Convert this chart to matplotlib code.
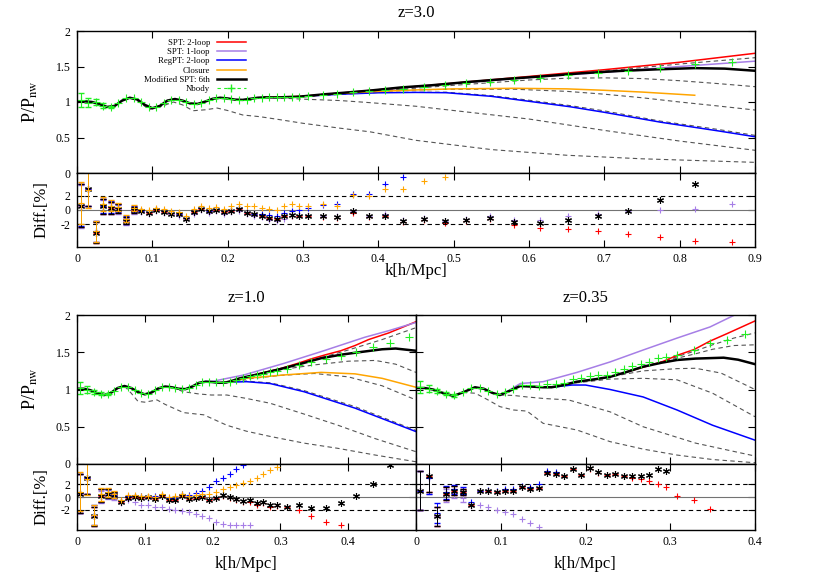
import matplotlib
matplotlib.use('Agg')
import matplotlib.pyplot as plt
from matplotlib.lines import Line2D
from matplotlib.ticker import FuncFormatter

plt.rcParams['font.family'] = ['Liberation Serif', 'DejaVu Serif']
plt.rcParams['mathtext.fontset'] = 'stix'
plt.rcParams['axes.unicode_minus'] = False
plt.rcParams['axes.linewidth'] = 1.0

C_SPT2 = '#ff0000'
C_SPT1 = '#a67ee6'
C_REG = '#0000ff'
C_CLO = '#ffa500'
C_MSPT = 'black'
C_NB = '#22ee22'
C_DASH = '#555555'

labels = ['SPT: 2-loop', 'SPT: 1-loop', 'RegPT: 2-loop', 'Closure', 'Modified SPT: 6th', 'Nbody']
diff_guides = [-2, 0, 2]

# N-body k bins, dense part shared by all redshifts
k_dense = [0.005, 0.015, 0.025, 0.035, 0.045, 0.055, 0.065, 0.075, 0.085, 0.095,
           0.105, 0.115, 0.125, 0.135, 0.145, 0.155, 0.165, 0.175, 0.185, 0.195,
           0.205, 0.215, 0.225, 0.235, 0.245, 0.255, 0.265, 0.275, 0.285, 0.295]

# ---------------- z = 3.0 ----------------
k3_base = [0.0, 0.01, 0.02, 0.03, 0.04, 0.05, 0.06, 0.07, 0.08, 0.09, 0.10, 0.11, 0.12, 0.13, 0.14,
           0.15, 0.16, 0.17, 0.18, 0.19, 0.20, 0.21, 0.22, 0.23, 0.24, 0.25, 0.26, 0.27, 0.28, 0.29,
           0.30, 0.33, 0.36, 0.39, 0.43, 0.47, 0.52, 0.57, 0.62, 0.67, 0.72, 0.77, 0.82, 0.86, 0.90]
mspt3 = [1.00, 1.01, 1.00, 0.97, 0.93, 0.945, 1.02, 1.06, 1.035, 0.96, 0.912, 0.945, 1.02, 1.042, 1.02,
         0.98, 0.973, 1.005, 1.045, 1.06, 1.05, 1.033, 1.03, 1.045, 1.06, 1.066, 1.065, 1.066, 1.07, 1.073,
         1.08, 1.11, 1.135, 1.162, 1.205, 1.235, 1.283, 1.325, 1.363, 1.405, 1.437, 1.46, 1.477, 1.47, 1.44]
k3_spt2 = [0.30, 0.40, 0.50, 0.60, 0.70, 0.80, 0.90]
spt2_3 = [1.08, 1.172, 1.265, 1.36, 1.455, 1.56, 1.686]
k3_spt1 = [0.30, 0.40, 0.50, 0.60, 0.70, 0.80, 0.90]
spt1_3 = [1.08, 1.172, 1.262, 1.345, 1.418, 1.50, 1.575]
k3_reg = [0.30, 0.35, 0.40, 0.45, 0.49, 0.55, 0.60, 0.654, 0.70, 0.775, 0.85, 0.90]
reg3 = [1.08, 1.11, 1.13, 1.135, 1.131, 1.08, 1.01, 0.934, 0.855, 0.715, 0.595, 0.511]
k3_clo = [0.25, 0.30, 0.35, 0.39, 0.45, 0.50, 0.58, 0.65, 0.70, 0.75, 0.82]
clo3 = [1.066, 1.08, 1.12, 1.145, 1.17, 1.185, 1.193, 1.185, 1.165, 1.14, 1.095]
k3_dash = [[0.30, 0.40, 0.50, 0.60, 0.70, 0.80, 0.90],
           [0.30, 0.40, 0.50, 0.60, 0.65, 0.70, 0.75, 0.80, 0.85, 0.90],
           [0.30, 0.39, 0.45, 0.50, 0.58, 0.65, 0.70, 0.75, 0.80, 0.85, 0.90],
           [0.30, 0.40, 0.49, 0.55, 0.60, 0.654, 0.70, 0.775, 0.85, 0.90],
           [0.25, 0.30, 0.35, 0.39, 0.45, 0.50, 0.60, 0.70, 0.80, 0.90],
           [0.06, 0.07, 0.08, 0.09, 0.097, 0.11, 0.128, 0.14, 0.154, 0.17, 0.186, 0.20, 0.22, 0.243,
            0.27, 0.30, 0.35, 0.389, 0.45, 0.55, 0.65, 0.75, 0.90]]
dash3 = [[1.08, 1.17, 1.258, 1.345, 1.435, 1.535, 1.624],
         [1.078, 1.155, 1.235, 1.31, 1.335, 1.34, 1.33, 1.30, 1.26, 1.216],
         [1.08, 1.145, 1.17, 1.18, 1.18, 1.15, 1.11, 1.06, 1.0, 0.945, 0.887],
         [1.08, 1.135, 1.138, 1.09, 1.025, 0.95, 0.875, 0.73, 0.615, 0.53],
         [1.066, 1.04, 1.02, 0.99, 0.94, 0.88, 0.76, 0.60, 0.45, 0.32],
         [1.02, 1.055, 1.02, 0.94, 0.897, 0.93, 1.0, 0.96, 0.877, 0.89, 0.915, 0.88, 0.817, 0.793,
          0.75, 0.70, 0.63, 0.58, 0.46, 0.33, 0.25, 0.20, 0.15]]
k3_sparse = [0.307, 0.327, 0.345, 0.367, 0.387, 0.409, 0.433, 0.46, 0.488, 0.517,
             0.548, 0.58, 0.615, 0.652, 0.691, 0.731, 0.774, 0.82, 0.869]
nb3 = [1.03, 0.99, 1.0, 0.95, 0.93, 0.98, 1.05, 1.05, 1.0, 0.93, 0.925, 0.985, 1.035, 1.035, 1.0,
       0.975, 0.99, 1.03, 1.055, 1.058, 1.04, 1.03, 1.035, 1.055, 1.062, 1.066, 1.064, 1.068, 1.072, 1.076,
       1.085, 1.10, 1.115, 1.135, 1.15, 1.169, 1.187, 1.215, 1.24, 1.263, 1.286, 1.31, 1.338, 1.376,
       1.41, 1.44, 1.48, 1.53, 1.568]
nb_err3 = [0.10, 0.06, 0.04, 0.03, 0.02]
# differences [%]
dmspt3 = [0.6, 3.0, -3.2, 0.5, 0.3, 0.2, -1.5, 0.0, -0.2, -0.4, 0.0, -0.3, -0.5, -0.6, -1.2,
          -0.3, 0.2, -0.2, 0.0, -0.3, -0.1, 0.2, -0.4, -0.6, -0.8, -1.1, -1.3, -0.9, -0.7, -0.8,
          -0.8, -0.9, -1.0, -0.2, -0.9, -0.8, -1.5, -1.2, -1.6, -1.4, -1.15, -1.7, -1.8, -1.4, -0.85,
          -0.15, 1.4, 3.6]
dspt2_3 = [0.6, 3.0, -3.2, 0.5, 0.3, 0.2, -1.5, 0.0, -0.2, -0.4, 0.0, -0.3, -0.5, -0.6, -1.2,
           -0.3, 0.2, -0.2, 0.0, -0.3, -0.1, 0.2, -0.4, -0.6, -0.8, -1.1, -1.3, -0.9, -0.8, -0.9,
           -0.9, -1.0, -1.1, -0.4, -1.0, -0.9, -1.7, -1.4, -1.8, -1.5, -1.3, -2.1, -2.5, -2.6, -2.9,
           -3.4, -3.8, -4.4, -4.5]
dspt1_3 = [0.5, 3.1, -3.0, 0.4, 0.2, 0.1, -1.6, -0.2, -0.3, -0.5, -0.1, -0.4, -0.6, -0.8, -1.3,
           -0.5, 0.0, -0.4, -0.2, -0.5, -0.3, -0.1, -0.6, -0.8, -1.0, -1.4, -1.6, -1.2, -0.9, -0.7,
           -0.7, -0.8, -0.9, -0.1, -0.8, -0.6, -1.4, -1.1, -1.5, -1.3, -0.9, -1.4, -1.4, -0.9, -0.55,
           -0.2, 0.0, 0.1, 0.8]
dreg3 = [0.7, 3.0, -3.0, 0.6, 0.4, 0.3, -1.4, 0.1, -0.1, -0.3, 0.1, -0.2, -0.4, -0.5, -1.1,
         -0.2, 0.3, -0.1, 0.1, -0.2, 0.0, 0.3, -0.3, -0.5, -0.5, -0.7, -0.9, -0.4, -0.2, 0.0,
         0.3, 0.7, 0.9, 2.3, 2.2, 3.7, 4.6]
dclo3 = [1.0, 2.8, -3.0, 0.8, 0.6, 0.4, -1.2, 0.3, 0.2, 0.0, 0.3, 0.1, -0.2, -0.3, -0.8,
         0.1, 0.5, 0.3, 0.4, 0.2, 0.5, 0.9, 0.6, 0.5, 0.3, 0.2, 0.0, 0.6, 0.8, 0.6,
         0.5, 0.9, 0.5, 2.1, 2.0, 2.9, 2.9, 4.1, 4.6]
derr3 = [3.0, 2.5, 1.5, 1.0, 0.8, 0.6, 0.5, 0.4]

# ---------------- z = 1.0 ----------------
k1_base = [0.0, 0.01, 0.02, 0.03, 0.04, 0.05, 0.06, 0.07, 0.08, 0.09, 0.10, 0.11, 0.12, 0.13, 0.14,
           0.15, 0.16, 0.17, 0.18, 0.19, 0.20, 0.21, 0.22, 0.23, 0.24, 0.25, 0.27, 0.30, 0.33, 0.36,
           0.39, 0.42, 0.45, 0.47, 0.50]
mspt1 = [1.01, 1.01, 0.99, 0.95, 0.925, 0.955, 1.02, 1.047, 1.02, 0.965, 0.935, 0.96, 1.015, 1.04, 1.03,
         1.01, 1.005, 1.04, 1.09, 1.105, 1.10, 1.09, 1.095, 1.12, 1.15, 1.17, 1.21, 1.275, 1.345, 1.42,
         1.468, 1.505, 1.54, 1.55, 1.52]
k1_spt2 = [0.25, 0.30, 0.327, 0.345, 0.367, 0.389, 0.41, 0.43, 0.46, 0.50]
spt2_1 = [1.17, 1.28, 1.355, 1.41, 1.467, 1.52, 1.59, 1.67, 1.76, 1.91]
k1_spt1 = [0.19, 0.20, 0.246, 0.305, 0.364, 0.424, 0.46, 0.50]
spt1_1 = [1.105, 1.11, 1.195, 1.35, 1.52, 1.70, 1.79, 1.90]
k1_reg = [0.19, 0.21, 0.23, 0.25, 0.285, 0.335, 0.41, 0.50]
reg1 = [1.105, 1.09, 1.10, 1.105, 1.08, 0.97, 0.75, 0.435]
k1_clo = [0.22, 0.25, 0.305, 0.36, 0.41, 0.45, 0.50]
clo1 = [1.095, 1.15, 1.195, 1.23, 1.21, 1.15, 1.03]
k1_dash = [[0.25, 0.30, 0.35, 0.40, 0.45, 0.50],
           [0.25, 0.30, 0.35, 0.40, 0.44, 0.47, 0.50],
           [0.22, 0.25, 0.30, 0.35, 0.40, 0.45, 0.50],
           [0.21, 0.221, 0.246, 0.285, 0.335, 0.41, 0.50],
           [0.14, 0.157, 0.18, 0.198, 0.221, 0.25, 0.285, 0.335, 0.385, 0.44, 0.50],
           [0.07, 0.08, 0.09, 0.10, 0.118, 0.13, 0.157, 0.187, 0.221, 0.25, 0.285, 0.335, 0.385, 0.44, 0.50]]
dash1 = [[1.17, 1.28, 1.40, 1.53, 1.67, 1.83],
         [1.17, 1.265, 1.33, 1.38, 1.39, 1.34, 1.23],
         [1.095, 1.14, 1.19, 1.215, 1.17, 1.05, 0.86],
         [1.09, 1.10, 1.115, 1.09, 0.985, 0.77, 0.45],
         [1.03, 0.97, 0.94, 0.926, 0.926, 0.88, 0.815, 0.67, 0.52, 0.34, 0.165],
         [1.045, 0.95, 0.84, 0.83, 0.86, 0.80, 0.69, 0.66, 0.52, 0.44, 0.37, 0.28, 0.21, 0.12, 0.03]]
k1_sparse = [0.31, 0.327, 0.345, 0.367, 0.389, 0.411, 0.436, 0.462, 0.49]
nb1 = [1.02, 1.0, 0.97, 0.94, 0.935, 0.985, 1.035, 1.035, 0.99, 0.95, 0.945, 0.99, 1.03, 1.035, 1.02,
       1.01, 1.02, 1.065, 1.10, 1.10, 1.095, 1.095, 1.105, 1.13, 1.155, 1.175, 1.19, 1.21, 1.235, 1.25,
       1.28, 1.33, 1.37, 1.41, 1.45, 1.50, 1.57, 1.63, 1.71]
nb_err1 = [0.08, 0.05, 0.03, 0.02, 0.015]
dmspt1 = [0.5, 3.0, -3.0, 0.2, 0.5, 0.3, -0.8, -0.1, 0.0, -0.2, 0.0, -0.3, 0.1, -0.5, -0.4,
          0.2, -0.3, -0.1, 0.0, -0.4, -0.2, 0.3, 0.0, -0.3, -0.6, -0.5, -1.0, -0.8, -1.3, -1.2,
          -1.47, -1.2, -1.7, -1.7, -0.94, 0.2, 2.0, 5.0]
dspt2_1 = [0.5, 3.0, -3.0, 0.2, 0.5, 0.3, -0.8, -0.1, 0.0, -0.2, 0.0, -0.3, 0.1, -0.5, -0.4,
           0.2, -0.3, -0.1, 0.0, -0.4, -0.2, 0.2, -0.1, -0.4, -0.7, -0.7, -1.2, -1.0, -1.5, -1.4,
           -1.5, -2.0, -2.9, -3.9, -4.3]
dspt1_1 = [0.5, 3.0, -3.0, 0.0, 0.4, 0.0, -1.0, -0.5, -0.8, -1.3, -1.2, -1.5, -1.6, -1.9, -2.0,
           -2.1, -2.3, -2.6, -3.0, -3.3, -3.9, -4.2, -4.3, -4.4, -4.4, -4.4]
dreg1 = [0.6, 3.0, -2.8, 0.3, 0.6, 0.3, -0.6, 0.2, 0.1, 0.2, -0.1, 0.1, 0.3, -0.2, -0.1,
         0.4, 0.3, 0.6, 0.9, 1.6, 2.4, 3.0, 3.6, 4.3, 5.0]
dclo1 = [0.8, 2.8, -2.8, 0.4, 0.7, 0.4, -0.5, 0.3, 0.3, 0.1, 0.2, 0.0, 0.4, 0.0, 0.1,
         0.5, 0.2, 0.3, 0.4, 0.5, 0.8, 1.2, 1.5, 1.8, 2.2, 2.5, 3.0, 3.5, 4.1, 4.7]
derr1 = [3.0, 2.5, 1.5, 1.0, 0.7, 0.5]

# ---------------- z = 0.35 ----------------
k035_base = [0.0, 0.01, 0.02, 0.03, 0.044, 0.055, 0.0696, 0.08, 0.09, 0.099, 0.11, 0.123, 0.135, 0.15,
             0.16, 0.17, 0.19, 0.21, 0.229, 0.25, 0.268, 0.29, 0.308, 0.33, 0.363, 0.38, 0.40]
mspt035 = [1.02, 1.02, 1.0, 0.96, 0.913, 0.96, 1.03, 1.01, 0.955, 0.926, 0.98, 1.047, 1.04, 1.03,
           1.03, 1.05, 1.105, 1.135, 1.17, 1.24, 1.306, 1.36, 1.396, 1.415, 1.427, 1.40, 1.34]
k035_spt2 = [0.25, 0.29, 0.308, 0.328, 0.347, 0.367, 0.40]
spt2_035 = [1.24, 1.37, 1.458, 1.536, 1.65, 1.75, 1.92]
k035_spt1 = [0.10, 0.11, 0.123, 0.15, 0.19, 0.229, 0.268, 0.308, 0.347, 0.376, 0.40]
spt1_035 = [0.926, 0.99, 1.08, 1.105, 1.23, 1.37, 1.53, 1.69, 1.84, 2.0, 2.1]
k035_reg = [0.16, 0.184, 0.20, 0.229, 0.268, 0.308, 0.35, 0.40]
reg035 = [1.03, 1.06, 1.06, 1.0, 0.9, 0.725, 0.52, 0.32]
k035_dash = [[0.25, 0.29, 0.308, 0.33, 0.35, 0.375, 0.40],
             [0.25, 0.29, 0.308, 0.33, 0.35, 0.375, 0.40],
             [0.17, 0.19, 0.229, 0.268, 0.308, 0.33, 0.36, 0.40],
             [0.17, 0.19, 0.229, 0.268, 0.308, 0.35, 0.40],
             [0.099, 0.115, 0.131, 0.15, 0.18, 0.229, 0.268, 0.33, 0.40],
             [0.055, 0.07, 0.085, 0.099, 0.115, 0.131, 0.15, 0.19, 0.229, 0.268, 0.308, 0.35, 0.40]]
dash035 = [[1.25, 1.37, 1.44, 1.52, 1.60, 1.69, 1.76],
           [1.25, 1.37, 1.42, 1.48, 1.54, 1.59, 1.60],
           [1.05, 1.105, 1.17, 1.25, 1.28, 1.285, 1.22, 1.0],
           [1.05, 1.09, 1.14, 1.15, 1.13, 0.95, 0.635],
           [0.926, 0.92, 0.90, 0.88, 0.86, 0.70, 0.50, 0.28, 0.107],
           [0.96, 0.95, 0.86, 0.77, 0.725, 0.71, 0.546, 0.456, 0.30, 0.20, 0.12, 0.06, 0.017]]
k035_sparse = [0.308, 0.328, 0.347, 0.367, 0.388]
nb035 = [1.03, 1.01, 0.98, 0.945, 0.92, 0.97, 1.02, 1.02, 0.98, 0.94, 0.96, 1.01, 1.06, 1.055, 1.045,
         1.07, 1.07, 1.09, 1.14, 1.16, 1.18, 1.19, 1.20, 1.24, 1.27, 1.31, 1.34, 1.37, 1.42, 1.43,
         1.46, 1.53, 1.62, 1.66, 1.745]
nb_err035 = [0.08, 0.05, 0.03, 0.02, 0.015]
dmspt035 = [1.0, 3.2, -3.0, 0.5, 1.0, 0.8, -1.2, 0.9, 1.0, 0.8, 0.9, 1.0, 1.6, 1.3, 1.4,
            3.7, 3.5, 3.2, 4.4, 3.4, 4.5, 3.8, 3.4, 3.6, 3.3, 3.2, 3.3, 3.4, 4.4, 4.0]
dspt2_035 = [1.0, 3.2, -3.0, 0.5, 1.0, 0.8, -1.2, 0.9, 1.0, 0.8, 0.9, 1.0, 1.6, 1.3, 1.4,
             3.7, 3.5, 3.2, 4.3, 3.4, 4.4, 3.7, 3.4, 3.5, 3.2, 3.0, 2.8, 2.5, 2.0, 1.5,
             0.1, -0.4, -1.8]
dreg035 = [1.0, 3.0, -2.5, 0.7, 1.2, 1.0, -0.8, 1.0, 1.1, 1.0, 1.2, 1.3, 1.7, 1.5, 2.0, 4.0, 3.9]
dspt1_035 = [1.0, 3.0, -3.0, 0.3, 0.6, -0.2, -1.4, -1.2, -1.6, -2.0, -2.3, -2.6, -3.4, -4.0, -4.6]
derr035 = [3.0, 2.5, 1.5, 1.0, 0.7, 0.5]


W, H = 830, 581


def box(x0, y0, x1, y1):
    # pixel rectangle (origin top-left) -> figure fraction
    return [x0 / W, 1 - y1 / H, (x1 - x0) / W, (y1 - y0) / H]


fmt = FuncFormatter(lambda v, p: f'{v:g}')


def style(ax, xmax, xticks, ylim, yticks, showx, showy):
    ax.set_xlim(0, xmax)
    ax.set_ylim(*ylim)
    ax.set_xticks(xticks)
    ax.set_yticks(yticks)
    ax.xaxis.set_major_formatter(fmt)
    ax.yaxis.set_major_formatter(fmt)
    ax.tick_params(direction='in', top=True, right=True, length=4.8, width=0.8,
                   labelsize=8.6, pad=4.5, labelbottom=showx, labelleft=showy)


def main_panel(ax, kb, mspt, lines, kd, dashes, knb, nb, nb_err):
    for kk, yy in zip(kd, dashes):
        ax.plot(kk, yy, color=C_DASH, lw=0.8, ls=(0, (4, 3)))
    for kk, yy, c in lines:
        ax.plot(kk, yy, color=c, lw=1.1)
    ax.plot(kb, mspt, color=C_MSPT, lw=1.8)
    ax.plot(knb, nb, ls='none', marker='+', ms=5.5, mew=0.8, color=C_NB)
    n = len(nb_err)
    ax.errorbar(knb[:n], nb[:n], yerr=nb_err, fmt='none', ecolor=C_NB, elinewidth=0.8, capsize=2)


def diff_panel(ax, knb, series, err):
    ax.axhline(diff_guides[1], color='0.45', lw=0.8)
    for g in (diff_guides[0], diff_guides[2]):
        ax.axhline(g, color='black', lw=0.8, ls=(0, (4, 3)))
    for vals, c, mk in series:
        kk = knb[:len(vals)]
        ax.plot(kk, vals, ls='none', marker=mk, ms=5, mew=0.8, color=c)
        n = len(err)
        ax.errorbar(kk[:n], vals[:n], yerr=err, fmt='none', ecolor=c, elinewidth=0.7, capsize=2)


AST = (6, 2, 0)  # gnuplot-like asterisk

fig = plt.figure(figsize=(8.3, 5.81), dpi=100)

# ---- top: z=3.0 ----
ax3 = fig.add_axes(box(77, 31, 755, 173))
ax3d = fig.add_axes(box(77, 173, 755, 247))
k3 = k_dense + k3_sparse
main_panel(ax3, k3_base, mspt3,
           [(k3_spt2, spt2_3, C_SPT2), (k3_spt1, spt1_3, C_SPT1), (k3_reg, reg3, C_REG), (k3_clo, clo3, C_CLO)],
           k3_dash, dash3, k3, nb3, nb_err3)
diff_panel(ax3d, k3, [(dspt2_3, C_SPT2, '+'), (dspt1_3, C_SPT1, '+'), (dreg3, C_REG, '+'),
                      (dmspt3, C_MSPT, AST), (dclo3, C_CLO, '+')], derr3)
xt9 = [0, 0.1, 0.2, 0.3, 0.4, 0.5, 0.6, 0.7, 0.8, 0.9]
style(ax3, 0.9, xt9, (0, 2), [0, 0.5, 1, 1.5, 2], False, True)
style(ax3d, 0.9, xt9, (-5.2, 5.2), diff_guides, True, True)

handles = [Line2D([], [], color=C_SPT2, lw=1.1), Line2D([], [], color=C_SPT1, lw=1.1),
           Line2D([], [], color=C_REG, lw=1.1), Line2D([], [], color=C_CLO, lw=1.1),
           Line2D([], [], color=C_MSPT, lw=1.8),
           Line2D([], [], color=C_NB, lw=0.8, ls=(0, (3, 3)), marker='+', ms=6)]
ax3.legend(handles, labels, loc='upper left', bbox_to_anchor=(0.099, 0.944), frameon=False,
           markerfirst=False, fontsize=6.3, handlelength=3.3, handletextpad=0.8,
           labelspacing=0.12, borderpad=0, borderaxespad=0)

# ---- bottom left: z=1.0 ----
ax1 = fig.add_axes(box(77, 315, 416, 464))
ax1d = fig.add_axes(box(77, 464, 416, 530))
k1 = k_dense + k1_sparse
main_panel(ax1, k1_base, mspt1,
           [(k1_spt2, spt2_1, C_SPT2), (k1_spt1, spt1_1, C_SPT1), (k1_reg, reg1, C_REG), (k1_clo, clo1, C_CLO)],
           k1_dash, dash1, k1, nb1, nb_err1)
diff_panel(ax1d, k1, [(dspt2_1, C_SPT2, '+'), (dspt1_1, C_SPT1, '+'), (dreg1, C_REG, '+'),
                      (dmspt1, C_MSPT, AST), (dclo1, C_CLO, '+')], derr1)
xt4 = [0, 0.1, 0.2, 0.3, 0.4]
style(ax1, 0.5, xt4, (0, 2), [0, 0.5, 1, 1.5, 2], False, True)
style(ax1d, 0.5, xt4, (-5.1, 5.1), diff_guides, True, True)

# ---- bottom right: z=0.35 ----
ax0 = fig.add_axes(box(416, 315, 755, 464))
ax0d = fig.add_axes(box(416, 464, 755, 530))
k035 = k_dense + k035_sparse
main_panel(ax0, k035_base, mspt035,
           [(k035_spt2, spt2_035, C_SPT2), (k035_spt1, spt1_035, C_SPT1), (k035_reg, reg035, C_REG)],
           k035_dash, dash035, k035, nb035, nb_err035)
diff_panel(ax0d, k035, [(dspt2_035, C_SPT2, '+'), (dspt1_035, C_SPT1, '+'), (dreg035, C_REG, '+'),
                        (dmspt035, C_MSPT, AST)], derr035)
style(ax0, 0.4, xt4, (0, 2), [0, 0.5, 1, 1.5, 2], False, False)
style(ax0d, 0.4, xt4, (-5.1, 5.1), diff_guides, True, False)

# titles and axis labels
fig.text(416 / W, 1 - 13 / H, 'z=3.0', ha='center', va='center', fontsize=12)
fig.text(246 / W, 1 - 298 / H, 'z=1.0', ha='center', va='center', fontsize=12)
fig.text(585 / W, 1 - 298 / H, 'z=0.35', ha='center', va='center', fontsize=12)
for yc in (102, 389):
    fig.text(30 / W, 1 - yc / H, r'P/P$_{\rm nw}$', rotation=90, ha='center', va='center', fontsize=13)
for yc in (210, 497):
    fig.text(42 / W, 1 - yc / H, 'Diff.[%]', rotation=90, ha='center', va='center', fontsize=12)
for xc, yc in ((416, 271), (246, 564), (585, 564)):
    fig.text(xc / W, 1 - yc / H, 'k[h/Mpc]', ha='center', va='center', fontsize=12)

fig.savefig('out.png', dpi=100)
